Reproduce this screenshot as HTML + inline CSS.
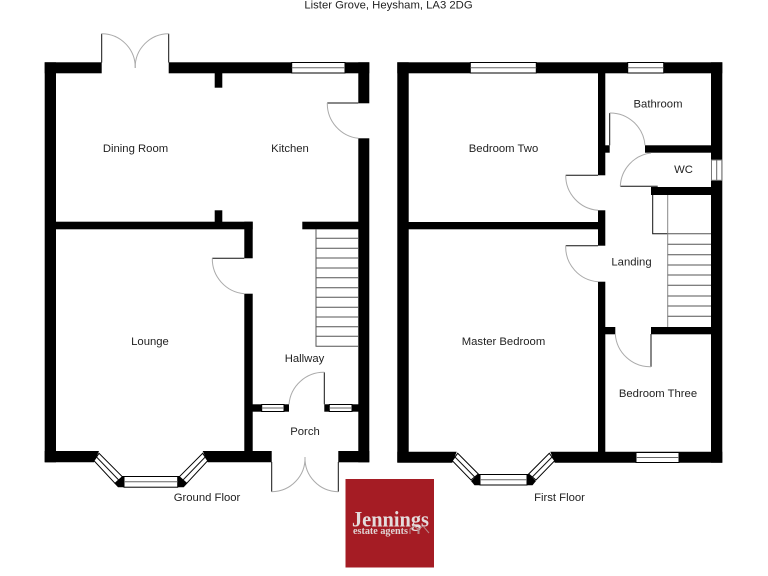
<!DOCTYPE html>
<html><head><meta charset="utf-8"><style>
html,body{margin:0;padding:0;background:#fff;width:768px;height:576px;overflow:hidden}
svg{display:block}
text{font-family:"Liberation Sans",sans-serif;font-size:11.3px;fill:#222;text-anchor:middle}
.w{fill:#000}
.a{fill:none;stroke:#aaa;stroke-width:1}
.d{stroke:#111;stroke-width:1;fill:none}
.s{stroke:#555;stroke-width:1;fill:none}
.g{fill:#fff;stroke:#000;stroke-width:1}
.m{stroke:#666;stroke-width:1;fill:none}
</style></head><body>
<svg width="768" height="576" viewBox="0 0 768 576" xmlns="http://www.w3.org/2000/svg">
<text x="388.500" y="8.500">Lister Grove, Heysham, LA3 2DG</text>

<!-- GROUND FLOOR walls -->
<rect class="w" x="44.700" y="62.300" width="57" height="11"/>
<rect class="w" x="168.700" y="62.300" width="200.600" height="11"/>
<rect class="w" x="44.700" y="62.300" width="11.300" height="400"/>
<rect class="w" x="358.300" y="62.300" width="11" height="41"/>
<rect class="w" x="358.300" y="138.300" width="11" height="324"/>
<rect class="w" x="214.700" y="73" width="7.600" height="14.700"/>
<rect class="w" x="214.700" y="210.300" width="7.600" height="12"/>
<rect class="w" x="55" y="221.700" width="197.700" height="7.600"/>
<rect class="w" x="302.300" y="221.700" width="56.500" height="7.600"/>
<rect class="w" x="244.300" y="221.700" width="8.400" height="36.600"/>
<rect class="w" x="244.300" y="293.700" width="8.400" height="168"/>
<polygon class="w" points="44.700,451 99,451 94,462.300 44.700,462.300"/>
<polygon class="w" points="202.700,451 271.700,451 271.700,462.300 207.700,462.300"/>
<rect class="w" x="338.300" y="451" width="31" height="11.300"/>
<rect class="w" x="252" y="404.300" width="37" height="7.400"/>
<rect class="w" x="324.300" y="404.300" width="34.500" height="7.400"/>

<!-- ground windows -->
<rect class="g" x="291.700" y="62.500" width="53.300" height="10.500"/><line class="m" x1="291.700" y1="67.800" x2="345" y2="67.800"/>
<rect class="g" x="261.700" y="404.500" width="22.300" height="7"/><line class="m" x1="261.700" y1="408" x2="284" y2="408"/>
<rect class="g" x="329.300" y="404.500" width="22.700" height="7"/><line class="m" x1="329.300" y1="408" x2="352" y2="408"/>
<!-- ground bay -->
<polygon class="w" points="114.500,483.500 122,476 124.500,476 124.500,487.300 118,487.300"/>
<polygon class="w" points="187.200,483.500 179.700,476 177.200,476 177.200,487.300 183.700,487.300"/>
<rect class="g" x="124" y="476.500" width="53.700" height="10.700"/><line class="m" x1="124" y1="481.800" x2="177.700" y2="481.800"/>
<polygon class="g" points="99,453.300 94,460.700 115,483.300 122.300,476.700"/><line class="d" x1="96.500" y1="457" x2="118.700" y2="480"/>
<polygon class="g" points="202.700,453.300 207.700,460.700 186.700,483.300 179.400,476.700"/><line class="d" x1="205.200" y1="457" x2="183" y2="480"/>

<!-- ground doors -->
<line class="d" x1="101.700" y1="62.500" x2="101.700" y2="33.700"/>
<line class="d" x1="168.700" y1="62.500" x2="168.700" y2="33.700"/>
<path class="a" d="M101.700 33.700A33.500 33.500 0 0 1 135.200 68"/>
<path class="a" d="M168.700 33.700A33.500 33.500 0 0 0 135.200 68"/>
<line class="d" x1="358.300" y1="103" x2="327.300" y2="103"/>
<path class="a" d="M327.300 103A35 35 0 0 0 358.300 138.300"/>
<line class="d" x1="244.300" y1="258.300" x2="212.300" y2="258.300"/>
<path class="a" d="M212.300 258.300A35 35 0 0 0 244.300 293.700"/>
<line class="d" x1="324.300" y1="404.300" x2="324.300" y2="372.300"/>
<path class="a" d="M324.300 372.300A35 35 0 0 0 289 404.300"/>
<line class="d" x1="271.700" y1="462" x2="271.700" y2="491.700"/>
<line class="d" x1="338.300" y1="462" x2="338.300" y2="491.700"/>
<path class="a" d="M271.700 491.700A33.500 33.500 0 0 0 305 457"/>
<path class="a" d="M338.300 491.700A33.500 33.500 0 0 1 305 457"/>

<!-- ground stairs -->
<path class="s" d="M316 229.500V346.300H358M316 238.300H358M316 248.300H358M316 258H358M316 268H358M316 277.700H358M316 287.700H358M316 297.300H358M316 307.300H358M316 317H358M316 326.700H358M316 336.300H358"/>

<!-- FIRST FLOOR walls -->
<rect class="w" x="397.300" y="62.300" width="325" height="11"/>
<rect class="w" x="397.300" y="62.300" width="11.400" height="400"/>
<rect class="w" x="711" y="62.300" width="11.300" height="400.400"/>
<rect class="w" x="598" y="73" width="7.300" height="102.300"/>
<rect class="w" x="598" y="210.300" width="7.300" height="35.400"/>
<rect class="w" x="598" y="281.700" width="7.300" height="175"/>
<rect class="w" x="408" y="222" width="190.500" height="7.300"/>
<rect class="w" x="605" y="145.300" width="4.700" height="7.400"/>
<rect class="w" x="645" y="145.300" width="66.500" height="7.400"/>
<rect class="w" x="651" y="187" width="60.500" height="8"/>
<rect class="w" x="605" y="327" width="10.300" height="7.300"/>
<rect class="w" x="651" y="327" width="60.500" height="7.300"/>
<polygon class="w" points="397.300,451.700 456.700,451.700 452.300,462.700 397.300,462.700"/>
<polygon class="w" points="550.300,451.700 722.300,451.700 722.300,462.700 554.700,462.700"/>

<!-- first windows -->
<rect class="g" x="470.300" y="62.500" width="66" height="10.500"/><line class="m" x1="470.300" y1="67.800" x2="536.300" y2="67.800"/>
<rect class="g" x="627.700" y="62.500" width="36" height="10.500"/><line class="m" x1="627.700" y1="67.800" x2="663.700" y2="67.800"/>
<rect class="g" x="636" y="452.500" width="43" height="10"/><line class="m" x1="636" y1="457.500" x2="679" y2="457.500"/>
<rect x="711.500" y="160" width="10.300" height="20.300" fill="#fff" stroke="#777"/><line class="m" x1="716.700" y1="160" x2="716.700" y2="180.300"/>
<!-- first bay -->
<polygon class="w" points="471,481 478.500,474 480.500,474 480.500,485.300 474.500,485.300"/>
<polygon class="w" points="536,481 528.500,474 526.500,474 526.500,485.300 532.500,485.300"/>
<rect class="g" x="480" y="474.500" width="47" height="10.500"/><line class="m" x1="480" y1="479.700" x2="527" y2="479.700"/>
<polygon class="g" points="457.700,453.300 452.300,460.700 471,480 478.300,474"/><line class="d" x1="455" y1="457" x2="474.700" y2="477"/>
<polygon class="g" points="549.300,453.300 554.700,460.700 536,480 528.700,474"/><line class="d" x1="552" y1="457" x2="532.300" y2="477"/>

<!-- first doors -->
<line class="d" x1="598" y1="175.300" x2="565.700" y2="175.300"/>
<path class="a" d="M565.700 175.300A35 35 0 0 0 598 210.300"/>
<line class="d" x1="598" y1="245.700" x2="565.700" y2="245.700"/>
<path class="a" d="M565.700 245.700A35 35 0 0 0 598 281.700"/>
<line class="d" x1="609.700" y1="145.300" x2="609.700" y2="113"/>
<path class="a" d="M609.700 113A35 35 0 0 1 645 145.300"/>
<line class="d" x1="620.300" y1="186.300" x2="657.700" y2="186.300"/>
<path class="a" d="M620.300 186.300A35 35 0 0 1 651 153"/>
<line class="d" x1="651" y1="334" x2="651" y2="366.700"/>
<path class="a" d="M651 366.700A35 35 0 0 1 615.300 334"/>

<!-- first stairs -->
<path class="d" d="M652.700 195V233.700H667.700" stroke="#444"/>
<line x1="667.700" y1="195" x2="667.700" y2="327" stroke="#888" stroke-width="1"/>
<path class="s" d="M667.700 233.700H711M667.700 244.300H711M667.700 254.700H711M667.700 265H711M667.700 275H711M667.700 285.300H711M667.700 296H711M667.700 306H711M667.700 316.300H711"/>

<!-- labels -->
<text x="135.500" y="152">Dining Room</text>
<text x="290" y="152">Kitchen</text>
<text x="150" y="345">Lounge</text>
<text x="304.500" y="362">Hallway</text>
<text x="305" y="435">Porch</text>
<text x="207" y="501">Ground Floor</text>
<text x="503.500" y="152">Bedroom Two</text>
<text x="658" y="107.500">Bathroom</text>
<text x="683.500" y="173">WC</text>
<text x="631.500" y="265.500">Landing</text>
<text x="503.500" y="345">Master Bedroom</text>
<text x="658" y="397">Bedroom Three</text>
<text x="559.500" y="501">First Floor</text>

<!-- logo -->
<rect x="345.500" y="479" width="88.500" height="88.500" fill="#a51c24"/>
<text x="390.500" y="526.500" style="font-family:'Liberation Serif',serif;font-size:22px;font-weight:bold;fill:#e4dcdc" textLength="77" lengthAdjust="spacingAndGlyphs">Jennings</text>
<text x="380.500" y="534" style="font-family:'Liberation Serif',serif;font-size:10px;font-weight:bold;fill:#e0d4d4" textLength="55" lengthAdjust="spacingAndGlyphs">estate agents</text>
<path d="M410 534V529L414 526L418 529V534M419 534V529L423 526L429 533" fill="none" stroke="#b98a8c" stroke-width="1"/>
</svg>
</body></html>
